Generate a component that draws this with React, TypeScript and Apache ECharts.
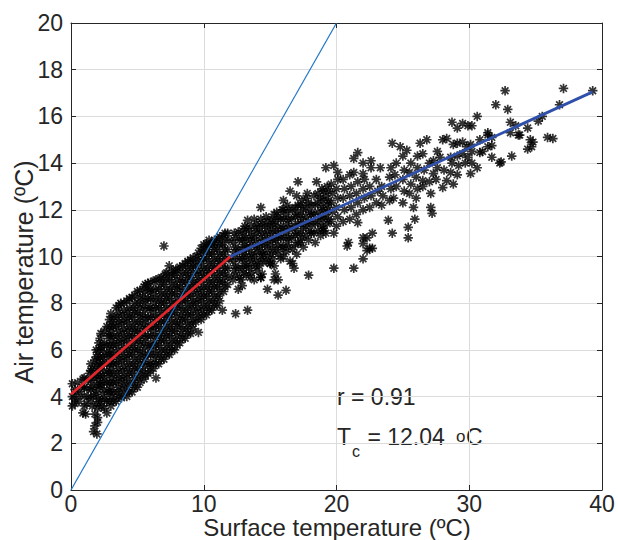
import React, { useEffect, useRef } from "react";
import * as echarts from "echarts";

// ---- data ----
const coreLow: number[][] = [
  [0.1,3.6],[0.3,3.7],[0.1,4.0],[0.4,4.2],[0.1,4.55],[0.5,4.6],[0.6,3.8],[0.7,4.1],[0.8,4.4],[0.9,3.3],[0.9,4.75],
  [1.1,3.25],[1.2,3.7],[1.3,4.0],[1.2,4.35],[1.3,4.7],[1.4,5.0],
  [1.7,2.5],[1.95,2.4],[1.8,2.75],[2.0,2.9],[1.8,3.25],[2.0,3.1],[1.6,3.6],[1.7,4.05],[1.6,4.4],[1.75,4.8],[1.6,5.2],[1.8,5.55],
  [2.0,3.5],[2.1,3.9],[2.0,4.3],[2.1,4.7],[2.0,5.1],[2.1,5.5],[2.0,5.9],[2.1,6.3],
  [2.3,3.6],[2.4,4.1],[2.3,4.5],[2.4,4.9],[2.3,5.3],[2.4,5.7],[2.3,6.1],[2.25,6.7],
  [2.7,3.3],[2.7,3.8],[2.8,4.2],[2.7,4.6],[2.8,5.0],[2.7,5.4],[2.8,5.8],[2.7,6.2],[2.8,6.6],[2.7,7.0],
  [3.0,3.6],[3.1,4.0],[3.0,4.4],[3.1,4.8],[3.0,5.2],[3.1,5.6],[3.0,6.0],[3.1,6.4],[3.0,6.8],[3.1,7.2],[3.0,7.55],
  [3.4,3.8],[3.5,4.2],[3.4,4.6],[3.5,5.0],[3.4,5.4],[3.5,5.8],[3.4,6.2],[3.5,6.6],[3.4,7.0],[3.5,7.4],[3.4,7.8],
  [3.8,3.95],[3.9,4.35],[3.8,4.7],[3.9,5.1],[3.8,5.5],[3.9,5.9],[3.8,6.3],[3.9,6.7],[3.8,7.1],[3.9,7.5],[3.75,8.0],
  [4.2,4.0],[4.3,4.4],[4.2,4.8],[4.3,5.2],[4.2,5.6],[4.3,6.0],[4.2,6.4],[4.3,6.8],[4.2,7.2],[4.3,7.6],[4.2,8.1],
  [4.6,4.2],[4.7,4.6],[4.6,5.0],[4.7,5.4],[4.6,5.8],[4.7,6.2],[4.6,6.6],[4.7,7.0],[4.6,7.4],[4.7,7.8],[4.6,8.25],
  [5.0,4.4],[5.1,4.8],[5.0,5.2],[5.1,5.6],[5.0,6.0],[5.1,6.4],[5.0,6.8],[5.1,7.2],[5.0,7.6],[5.1,8.0],[5.0,8.5],
  [5.5,4.75],[5.4,5.1],[5.5,5.5],[5.4,5.9],[5.5,6.3],[5.4,6.7],[5.5,7.1],[5.4,7.5],[5.5,7.9],[5.4,8.3],[5.5,8.7],
  [5.8,5.0],[5.9,5.4],[5.8,5.8],[5.9,6.2],[5.8,6.6],[5.9,7.0],[5.8,7.4],[5.9,7.8],[5.8,8.2],[5.9,8.55],[5.8,8.85],
];

const coreHigh: number[][] = [
  [6.4,4.8],[6.2,5.2],[6.3,5.6],[6.2,6.0],[6.3,6.4],[6.2,6.8],[6.3,7.2],[6.2,7.6],[6.3,8.0],[6.2,8.4],[6.3,8.95],
  [6.6,5.4],[6.7,5.8],[6.6,6.2],[6.7,6.6],[6.6,7.0],[6.7,7.4],[6.6,7.8],[6.7,8.2],[6.6,8.6],[6.7,9.05],
  [7.0,5.6],[7.1,6.0],[7.0,6.4],[7.1,6.8],[7.0,7.2],[7.1,7.6],[7.0,8.0],[7.1,8.4],[7.0,8.8],[7.1,9.25],
  [7.4,5.8],[7.5,6.2],[7.4,6.6],[7.5,7.0],[7.4,7.4],[7.5,7.8],[7.4,8.2],[7.5,8.6],[7.4,9.0],[7.4,9.6],
  [7.8,6.0],[7.9,6.4],[7.8,6.8],[7.9,7.2],[7.8,7.6],[7.9,8.0],[7.8,8.4],[7.9,8.8],[7.8,9.2],[7.9,9.45],
  [8.2,6.3],[8.3,6.7],[8.2,7.1],[8.3,7.5],[8.2,7.9],[8.3,8.3],[8.2,8.7],[8.3,9.1],[8.2,9.55],
  [8.6,6.5],[8.7,6.9],[8.6,7.3],[8.7,7.7],[8.6,8.1],[8.7,8.5],[8.6,8.9],[8.7,9.3],[8.6,9.7],
  [9.0,6.7],[9.1,7.1],[9.0,7.5],[9.1,7.9],[9.0,8.3],[9.1,8.7],[9.0,9.1],[9.1,9.5],[9.0,9.85],
  [9.6,6.75],[9.4,7.2],[9.5,7.6],[9.4,8.0],[9.5,8.4],[9.4,8.8],[9.5,9.2],[9.4,9.6],[9.5,10.0],
  [9.8,7.3],[9.9,7.7],[9.8,8.1],[9.9,8.5],[9.8,8.9],[9.9,9.3],[9.8,9.7],[9.9,10.1],[9.8,10.35],
  [10.2,7.5],[10.3,7.9],[10.2,8.3],[10.3,8.7],[10.2,9.1],[10.3,9.5],[10.2,9.9],[10.3,10.3],[10.2,10.55],
  [10.6,7.7],[10.7,8.1],[10.6,8.5],[10.7,8.9],[10.6,9.3],[10.7,9.7],[10.6,10.1],[10.7,10.5],[10.8,10.7],
  [11.0,7.9],[11.1,8.3],[11.0,8.7],[11.1,9.1],[11.0,9.5],[11.1,9.9],[11.0,10.3],[11.1,10.75],
  [11.5,8.5],[11.4,8.9],[11.5,9.3],[11.4,9.7],[11.5,10.1],[11.4,10.5],[11.5,10.9],
  [11.8,8.8],[11.9,9.15],[11.8,9.5],[11.9,9.9],[11.8,10.3],[11.9,10.7],[11.8,11.0],
  [7.0,10.45],
];

const coreFill: number[][] = [
  [0.3,3.9],[0.3,4.3],
  [1.0,3.6],[1.0,4.0],[1.0,4.4],[1.0,4.8],
  [1.5,3.9],[1.5,4.3],[1.5,4.7],[1.5,5.1],[1.5,5.4],
  [1.9,3.7],[1.9,4.1],[1.9,4.5],[1.9,4.9],[1.9,5.3],[1.9,5.7],[1.9,6.0],
  [2.2,3.8],[2.2,4.5],[2.2,4.9],[2.2,5.3],[2.2,5.7],[2.2,6.1],[2.2,6.5],
  [2.5,3.5],[2.5,3.9],[2.5,4.3],[2.5,4.7],[2.5,5.1],[2.5,5.5],[2.5,5.9],[2.5,6.3],[2.5,6.8],
  [2.9,3.8],[2.9,4.2],[2.9,4.6],[2.9,5.0],[2.9,5.4],[2.9,5.8],[2.9,6.2],[2.9,6.6],[2.9,7.0],[2.9,7.3],
  [3.2,3.8],[3.2,4.2],[3.2,4.6],[3.2,5.0],[3.2,5.4],[3.2,5.8],[3.2,6.2],[3.2,6.6],[3.2,7.0],[3.2,7.4],
  [3.6,4.0],[3.6,4.4],[3.6,4.8],[3.6,5.2],[3.6,5.6],[3.6,6.0],[3.6,6.4],[3.6,6.8],[3.6,7.2],[3.6,7.6],[3.6,7.9],
  [4.0,4.15],[4.0,4.55],[4.0,4.9],[4.0,5.3],[4.0,5.7],[4.0,6.1],[4.0,6.5],[4.0,6.9],[4.0,7.3],[4.0,7.7],[4.0,8.0],
  [4.4,4.2],[4.4,4.6],[4.4,5.0],[4.4,5.4],[4.4,5.8],[4.4,6.2],[4.4,6.6],[4.4,7.0],[4.4,7.4],[4.4,7.8],[4.4,8.2],
  [4.8,4.4],[4.8,4.8],[4.8,5.2],[4.8,5.6],[4.8,6.0],[4.8,6.4],[4.8,6.8],[4.8,7.2],[4.8,7.6],[4.8,8.0],[4.8,8.35],
  [5.2,4.6],[5.2,5.0],[5.2,5.4],[5.2,5.8],[5.2,6.2],[5.2,6.6],[5.2,7.0],[5.2,7.4],[5.2,7.8],[5.2,8.2],[5.2,8.55],
  [5.6,4.9],[5.6,5.3],[5.6,5.7],[5.6,6.1],[5.6,6.5],[5.6,6.9],[5.6,7.3],[5.6,7.7],[5.6,8.1],[5.6,8.5],[5.6,8.8],
  [6.0,5.1],[6.0,5.4],[6.0,5.8],[6.0,6.2],[6.0,6.6],[6.0,7.0],[6.0,7.4],[6.0,7.8],[6.0,8.2],[6.0,8.6],[6.0,8.9],
  [6.4,5.4],[6.4,5.8],[6.4,6.2],[6.4,6.6],[6.4,7.0],[6.4,7.4],[6.4,7.8],[6.4,8.2],[6.4,8.6],[6.4,9.0],
  [6.8,5.6],[6.8,6.0],[6.8,6.4],[6.8,6.8],[6.8,7.2],[6.8,7.6],[6.8,8.0],[6.8,8.4],[6.8,8.8],[6.8,9.1],
  [7.2,5.8],[7.2,6.2],[7.2,6.6],[7.2,7.0],[7.2,7.4],[7.2,7.8],[7.2,8.2],[7.2,8.6],[7.2,9.0],[7.2,9.3],
  [7.6,6.0],[7.6,6.4],[7.6,6.8],[7.6,7.2],[7.6,7.6],[7.6,8.0],[7.6,8.4],[7.6,8.8],[7.6,9.2],[7.6,9.4],
  [8.0,6.2],[8.0,6.6],[8.0,7.0],[8.0,7.4],[8.0,7.8],[8.0,8.2],[8.0,8.6],[8.0,9.0],[8.0,9.4],
  [8.4,6.5],[8.4,6.9],[8.4,7.3],[8.4,7.7],[8.4,8.1],[8.4,8.5],[8.4,8.9],[8.4,9.3],[8.4,9.6],
  [8.8,6.7],[8.8,7.1],[8.8,7.5],[8.8,7.9],[8.8,8.3],[8.8,8.7],[8.8,9.1],[8.8,9.5],[8.8,9.8],
  [9.2,6.9],[9.2,7.3],[9.2,7.7],[9.2,8.1],[9.2,8.5],[9.2,8.9],[9.2,9.3],[9.2,9.7],[9.2,9.95],
  [9.6,7.4],[9.6,7.8],[9.6,8.2],[9.6,8.6],[9.6,9.0],[9.6,9.4],[9.6,9.8],[9.6,10.15],
  [10.0,7.5],[10.0,7.9],[10.0,8.3],[10.0,8.7],[10.0,9.1],[10.0,9.5],[10.0,9.9],[10.0,10.3],[10.0,10.5],
  [10.4,7.7],[10.4,8.1],[10.4,8.5],[10.4,8.9],[10.4,9.3],[10.4,9.7],[10.4,10.1],[10.4,10.5],[10.4,10.7],
  [10.8,7.9],[10.8,8.3],[10.8,8.7],[10.8,9.1],[10.8,9.5],[10.8,9.9],[10.8,10.3],[10.8,10.6],
  [11.2,8.1],[11.2,8.5],[11.2,8.9],[11.2,9.3],[11.2,9.7],[11.2,10.1],[11.2,10.5],[11.2,10.85],
  [11.6,8.7],[11.6,9.1],[11.6,9.5],[11.6,9.9],[11.6,10.3],[11.6,10.7],[11.6,11.0],
];

const bandMid: number[][] = [
  [12.2,9.0],[12.3,9.4],[12.2,9.8],[12.3,10.2],[12.2,10.6],[12.3,11.0],
  [12.6,8.6],[12.7,9.1],[12.6,9.5],[12.7,9.9],[12.6,10.3],[12.7,10.7],[12.6,11.05],
  [12.8,9.0],[12.9,8.75],[13.0,9.3],[13.1,9.7],[13.0,10.1],[13.1,10.5],[13.0,10.9],[13.1,11.3],
  [13.5,9.1],[13.4,9.5],[13.5,9.9],[13.4,10.3],[13.5,10.7],[13.4,11.1],[13.3,11.55],
  [13.8,9.0],[13.9,9.6],[13.8,10.0],[13.9,10.4],[13.8,10.8],[13.9,11.2],[13.8,11.6],
  [14.3,9.1],[14.4,9.25],[14.2,9.6],[14.3,10.0],[14.2,10.4],[14.3,10.8],[14.2,11.2],[14.3,11.6],[14.3,12.1],
  [14.5,10.1],[14.7,9.8],[14.6,10.5],[14.7,10.9],[14.6,11.3],[14.7,11.7],
  [15.0,9.7],[15.1,10.1],[15.0,10.5],[15.1,10.9],[15.0,11.3],[15.1,11.6],[15.3,11.8],
  [15.3,9.6],[15.4,9.25],[15.3,9.0],[15.5,10.3],[15.4,10.7],[15.5,11.1],[15.4,11.5],[15.5,11.9],
  [15.6,9.0],[15.8,9.9],[15.9,10.4],[15.8,10.8],[15.9,11.2],[15.8,11.6],[15.9,12.0],[16.0,12.4],
  [16.5,9.8],[16.2,10.2],[16.3,10.6],[16.2,11.0],[16.3,11.4],[16.2,11.8],[16.3,12.2],
  [16.7,9.7],[16.8,9.5],[16.7,10.3],[16.6,10.8],[16.7,11.2],[16.6,11.6],[16.7,12.0],[16.5,12.8],
  [17.0,10.1],[17.1,10.6],[17.0,11.0],[17.1,11.4],[17.0,11.8],[17.1,12.2],[17.0,12.6],[17.1,13.2],
  [17.5,10.4],[17.4,10.8],[17.5,11.2],[17.4,11.6],[17.5,12.0],[17.4,12.4],[17.8,12.7],
  [17.9,10.7],[18.0,11.1],[17.9,11.5],[18.0,11.9],[17.9,12.3],
  [18.4,10.6],[18.3,11.0],[18.4,11.4],[18.3,11.8],[18.4,12.2],[18.3,12.6],[18.5,13.2],
  [18.8,10.9],[18.9,11.3],[18.8,11.7],[18.9,12.1],[18.8,12.5],[18.9,12.9],
  [19.2,11.0],[19.3,11.4],[19.2,11.8],[19.3,12.2],[19.2,12.6],[19.3,13.0],[19.2,13.8],
  [19.6,11.5],[19.7,11.9],[19.6,12.3],[19.7,12.7],[19.6,13.1],[19.8,13.9],
  [20.0,11.3],[20.1,11.7],[20.0,12.1],[20.1,12.5],[20.0,12.9],[20.1,13.3],[20.1,13.6],
];

const bandFill: number[][] = [
  [12.4,9.2],[12.4,9.6],[12.4,10.0],[12.4,10.4],[12.4,10.8],
  [12.9,9.5],[12.9,9.9],[12.9,10.3],[12.9,10.7],[12.9,11.1],
  [13.2,9.2],[13.2,9.6],[13.2,10.0],[13.2,10.4],[13.2,10.8],[13.2,11.2],
  [13.6,9.3],[13.6,9.7],[13.6,10.1],[13.6,10.5],[13.6,10.9],[13.6,11.3],
  [14.0,9.4],[14.0,9.8],[14.0,10.2],[14.0,10.6],[14.0,11.0],[14.0,11.4],
  [14.4,9.8],[14.4,10.2],[14.4,10.6],[14.4,11.0],[14.4,11.4],
  [14.8,10.0],[14.8,10.3],[14.8,10.7],[14.8,11.1],[14.8,11.5],
  [15.2,9.9],[15.2,10.3],[15.2,10.7],[15.2,11.1],[15.2,11.4],
  [15.6,10.1],[15.6,10.5],[15.6,10.9],[15.6,11.3],[15.6,11.7],
  [16.0,10.0],[16.0,10.4],[16.0,10.8],[16.0,11.2],[16.0,11.6],[16.0,12.0],
  [16.4,10.4],[16.4,10.8],[16.4,11.2],[16.4,11.6],[16.4,12.0],
  [16.9,10.5],[16.9,10.9],[16.9,11.3],[16.9,11.7],[16.9,12.1],
  [17.3,10.6],[17.3,11.0],[17.3,11.4],[17.3,11.8],[17.3,12.2],
  [17.7,10.9],[17.7,11.3],[17.7,11.7],[17.7,12.1],[17.7,12.5],
  [18.1,11.0],[18.1,11.4],[18.1,11.8],[18.1,12.2],
  [18.6,11.1],[18.6,11.5],[18.6,11.9],[18.6,12.3],[18.6,12.7],
  [19.0,11.2],[19.0,11.6],[19.0,12.0],[19.0,12.4],[19.0,12.8],
  [19.4,11.6],[19.4,12.0],[19.4,12.4],[19.4,12.8],
];

const bandUpper: number[][] = [
  [20.5,11.5],[20.6,12.0],[20.5,12.5],[20.6,12.9],[20.5,13.3],
  [21.0,11.6],[21.1,12.1],[21.0,12.6],[21.1,13.0],[21.0,13.5],
  [21.5,11.8],[21.6,12.3],[21.5,12.7],[21.6,13.2],[21.3,13.6],[21.3,14.2],[21.6,14.45],
  [22.0,12.0],[22.1,12.5],[22.0,12.9],[22.1,13.3],[22.0,13.55],[22.0,14.0],
  [22.5,12.1],[22.6,12.6],[22.5,13.0],[22.6,13.8],[22.6,14.1],
  [23.0,12.3],[23.1,12.8],[23.0,13.3],
  [23.4,12.2],[23.5,12.6],[23.4,13.0],[23.3,13.8],
  [24.0,12.4],[24.1,12.9],[24.0,13.4],[24.1,13.8],
  [24.3,12.5],[24.5,13.0],[24.4,13.5],[24.5,14.0],[24.8,14.7],[24.2,14.85],
  [25.0,12.3],[25.1,12.8],[25.0,13.3],[25.1,13.7],[25.0,14.3],[25.3,14.55],
  [25.5,12.7],[25.6,13.1],[25.5,13.6],[25.6,14.0],
  [25.8,12.1],[26.0,12.5],[26.1,12.9],[26.0,13.4],[26.1,13.8],[26.1,14.3],[26.5,14.4],[26.3,14.85],[26.8,15.0],
  [26.5,13.0],[26.5,13.25],[26.6,13.7],
  [27.1,12.1],[27.1,12.7],[27.0,13.2],[27.3,13.55],[27.0,14.0],
  [27.5,13.3],[27.6,13.8],[27.3,14.1],[27.6,14.5],
  [28.0,12.95],[28.3,13.25],[28.1,13.7],[27.8,14.25],[28.0,15.0],[28.3,15.05],
  [28.8,13.1],[28.6,13.6],[28.7,14.0],[28.6,14.25],[28.8,14.8],[28.7,15.75],
  [29.1,13.5],[29.2,13.9],[29.1,14.3],[29.1,14.85],[29.1,15.5],
  [29.7,14.0],[29.5,14.4],[29.8,14.7],[29.5,14.9],[29.5,15.7],[29.9,15.6],
  [30.1,13.55],[30.2,14.0],[29.9,14.25],[30.2,14.5],[30.1,14.8],[30.2,15.6],
  [30.6,13.8],[30.8,14.45],[30.8,15.0],[31.0,14.5],[30.6,16.0],
  [31.4,15.2],[31.7,14.75],[31.4,14.7],[31.7,14.25],[31.4,15.3],[31.7,15.1],
  [32.0,16.5],[32.3,14.0],[32.4,14.05],[32.7,17.1],[32.9,16.3],[33.1,15.75],[33.5,15.6],[33.1,15.3],[33.8,15.2],[33.2,14.3],[33.7,15.2],
  [34.4,15.5],[34.6,15.0],[34.8,14.9],[34.7,14.7],[34.4,14.6],
  [35.2,15.8],[35.5,16.0],[35.9,15.1],[36.3,15.05],[36.8,16.5],[37.1,17.2],[39.3,17.1],
];

const outliers: number[][] = [
  [11.4,7.7],[12.4,7.55],[13.3,7.7],[14.8,8.6],[15.6,8.35],[16.2,8.55],[17.9,9.2],[19.8,9.5],[21.3,9.5],
  [22.0,9.9],[20.8,10.45],[20.9,10.6],[22.0,10.8],[22.0,10.55],[22.3,10.8],[22.7,11.0],[22.5,10.35],
  [22.7,10.35],[22.3,10.25],[21.6,11.45],[19.0,11.1],[19.8,11.0],[23.9,11.55],[24.2,11.0],[25.4,11.25],
  [25.4,10.8],[25.9,11.6],[27.2,11.85],[14.3,9.1],[15.0,9.7],
];

const oneToOne: number[][] = [[0, 0], [20, 20]];
const fitBelow: number[][] = [[0, 4.1], [12, 10]];
const fitAbove: number[][] = [[12, 10], [39.3, 17.05]];

const xTicks = { min: 0, max: 40, interval: 10 };
const yTicks = { min: 0, max: 20, interval: 2 };

const annotR = "r = 0.91";
const annotTc = "12.04";

// ---- chart ----
const FONT = "'Liberation Sans', Arial, Helvetica, sans-serif";
const INK = "#262626";
const ASTERISK =
  "path://M0 -10 L0 10 M-10 0 L10 0 M-7.07 -7.07 L7.07 7.07 M-7.07 7.07 L7.07 -7.07";

export default function App() {
  const ref = useRef<HTMLDivElement>(null);

  useEffect(() => {
    if (!ref.current) return;
    const chart = echarts.init(ref.current, undefined, { renderer: "svg" });

    const axisCommon = {
      type: "value" as const,
      axisLine: { show: true, onZero: false, lineStyle: { color: INK, width: 1 } },
      axisTick: { show: true, inside: true, length: 5, lineStyle: { color: INK, width: 1 } },
    };

    const points = [...coreLow, ...coreHigh, ...coreFill, ...bandMid, ...bandFill, ...bandUpper, ...outliers];

    chart.setOption({
      animation: false,
      backgroundColor: "#ffffff",
      grid: { left: 71, right: 16, top: 23, bottom: 50, containLabel: false },
      xAxis: [
        {
          ...axisCommon,
          ...xTicks,
          position: "bottom",
          axisLabel: { fontSize: 23, color: INK, margin: 2, fontFamily: FONT },
          splitLine: { show: true, lineStyle: { color: "#dcdcdc", width: 1 } },
        },
        {
          ...axisCommon,
          ...xTicks,
          position: "top",
          axisLabel: { show: false },
          splitLine: { show: false },
        },
      ],
      yAxis: [
        {
          ...axisCommon,
          ...yTicks,
          position: "left",
          axisLabel: { fontSize: 23, color: INK, margin: 8, fontFamily: FONT },
          splitLine: { show: true, lineStyle: { color: "#dcdcdc", width: 1 } },
        },
        {
          ...axisCommon,
          ...yTicks,
          position: "right",
          axisLabel: { show: false },
          splitLine: { show: false },
        },
      ],
      series: [
        {
          type: "scatter",
          data: points,
          symbol: ASTERISK,
          symbolSize: 9.5,
          itemStyle: { color: "rgba(0,0,0,0)", borderColor: "#000000", borderWidth: 1.7 },
          silent: true,
          z: 2,
        },
        {
          type: "line",
          data: oneToOne,
          symbol: "none",
          lineStyle: { color: "#1f74c8", width: 1.2 },
          silent: true,
          z: 5,
        },
        {
          type: "line",
          data: fitBelow,
          symbol: "none",
          lineStyle: { color: "#e3262b", width: 2.8 },
          silent: true,
          z: 6,
        },
        {
          type: "line",
          data: fitAbove,
          symbol: "none",
          lineStyle: { color: "#2f50aa", width: 2.8 },
          silent: true,
          z: 6,
        },
      ],
      graphic: [
        {
          type: "text",
          x: 337,
          y: 527.5,
          style: {
            text: "Surface temperature (ºC)",
            fontSize: 24,
            fontFamily: FONT,
            fill: INK,
            align: "center",
            verticalAlign: "middle",
          },
        },
        {
          type: "text",
          x: 24,
          y: 272,
          rotation: Math.PI / 2,
          style: {
            text: "Air temperature (ºC)",
            fontSize: 25,
            fontFamily: FONT,
            fill: INK,
            align: "center",
            verticalAlign: "middle",
          },
        },
        {
          type: "text",
          x: 337,
          y: 397,
          style: { text: annotR, fontSize: 23, fontFamily: FONT, fill: INK, align: "left", verticalAlign: "middle" },
        },
        {
          type: "text",
          x: 337,
          y: 437,
          style: { text: "T", fontSize: 23, fontFamily: FONT, fill: INK, align: "left", verticalAlign: "middle" },
        },
        {
          type: "text",
          x: 352,
          y: 451,
          style: { text: "c", fontSize: 16, fontFamily: FONT, fill: INK, align: "left", verticalAlign: "middle" },
        },
        {
          type: "text",
          x: 361,
          y: 437,
          style: { text: " = " + annotTc, fontSize: 23, fontFamily: FONT, fill: INK, align: "left", verticalAlign: "middle" },
        },
        {
          type: "text",
          x: 456,
          y: 436,
          style: { text: "o", fontSize: 17, fontFamily: FONT, fill: INK, align: "left", verticalAlign: "middle" },
        },
        {
          type: "text",
          x: 466,
          y: 437,
          style: { text: "C", fontSize: 23, fontFamily: FONT, fill: INK, align: "left", verticalAlign: "middle" },
        },
      ],
    });

    return () => chart.dispose();
  }, []);

  return (
    <div
      ref={ref}
      style={{ position: "fixed", left: 0, top: 0, width: 618, height: 540, background: "#fff" }}
    />
  );
}
